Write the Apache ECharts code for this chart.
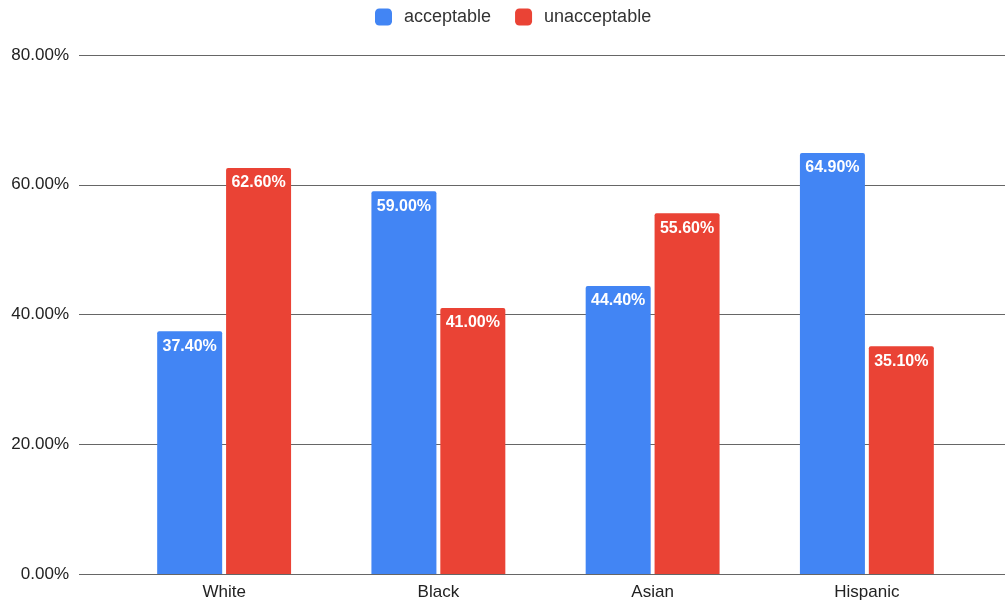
<!DOCTYPE html>
<html>
<head>
<meta charset="utf-8">
<script src="https://cdn.jsdelivr.net/npm/echarts@6/dist/echarts.min.js"></script>
<style>
  html, body { margin: 0; padding: 0; background: #fff; }
  #chart { width: 1005px; height: 605px; }
</style>
</head>
<body>
<div id="chart"></div>
<script>
// Share of respondents by group
const categories = ['White', 'Black', 'Asian', 'Hispanic'];
const acceptable = [37.4, 59.0, 44.4, 64.9];
const unacceptable = [62.6, 41.0, 55.6, 35.1];
const yMin = 0, yMax = 80, yStep = 20;

const fmtPct = v => Number(v).toFixed(2) + '%';
const font = '"Liberation Sans", Arial, Helvetica, sans-serif';

const labelStyle = {
  show: true,
  position: 'insideTop',
  distance: 7,
  color: '#fff',
  fontSize: 16,
  fontWeight: 'bold',
  fontFamily: font,
  formatter: p => fmtPct(p.value)
};

const chart = echarts.init(document.getElementById('chart'));
chart.setOption({
  animation: false,
  textStyle: { fontFamily: font },
  legend: {
    top: 8,
    left: 375,
    padding: 0,
    icon: 'roundRect',
    itemWidth: 17,
    itemHeight: 17,
    itemGap: 24,
    textStyle: { fontSize: 18, color: '#333', fontFamily: font, padding: [0, 0, 0, 7] },
    data: ['acceptable', 'unacceptable']
  },
  grid: [
    // full-width grid carrying the value gridlines and tick labels
    { left: 79, right: 0, top: 55, bottom: 31, containLabel: false },
    // inner grid where the category bars are laid out
    { left: 117, right: 31, top: 55, bottom: 31, containLabel: false }
  ],
  xAxis: [
    { gridIndex: 0, type: 'value', show: false, min: 0, max: 1 },
    {
      gridIndex: 1,
      type: 'category',
      data: categories,
      axisLine: { show: false },
      axisTick: { show: false },
      axisLabel: { color: '#222', fontSize: 17, fontFamily: font, margin: 10 }
    }
  ],
  yAxis: [
    {
      gridIndex: 0,
      type: 'value',
      min: yMin, max: yMax, interval: yStep,
      axisLine: { show: false },
      axisTick: { show: false },
      splitLine: { lineStyle: { color: '#666', width: 1 } },
      axisLabel: { color: '#222', fontSize: 17, fontFamily: font, margin: 10, formatter: v => fmtPct(v) }
    },
    {
      gridIndex: 1,
      type: 'value',
      min: yMin, max: yMax, interval: yStep,
      show: false
    }
  ],
  series: [
    {
      name: 'acceptable',
      type: 'bar',
      xAxisIndex: 1, yAxisIndex: 1,
      data: acceptable,
      barWidth: 65,
      barGap: '6%',
      itemStyle: { color: '#4285F4', borderRadius: [2, 2, 0, 0] },
      label: labelStyle
    },
    {
      name: 'unacceptable',
      type: 'bar',
      xAxisIndex: 1, yAxisIndex: 1,
      data: unacceptable,
      barWidth: 65,
      barGap: '6%',
      itemStyle: { color: '#EA4335', borderRadius: [2, 2, 0, 0] },
      label: labelStyle
    }
  ]
});
</script>
</body>
</html>
